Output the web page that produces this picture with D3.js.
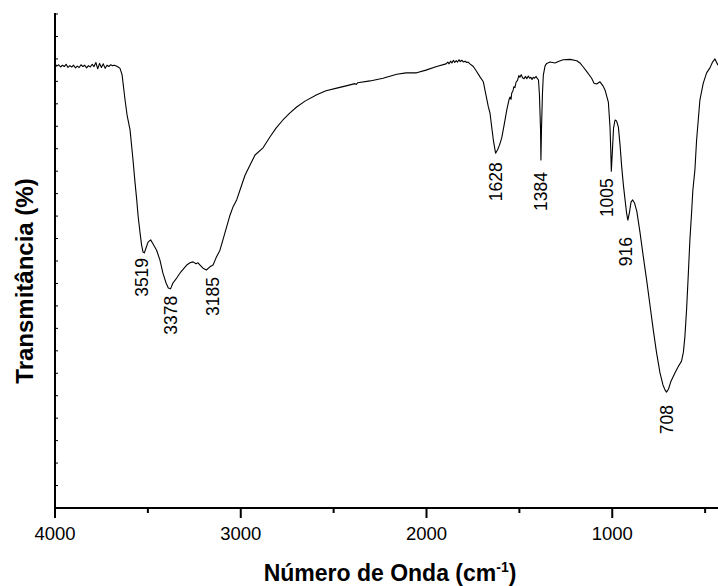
<!DOCTYPE html>
<html>
<head>
<meta charset="utf-8">
<script src="https://cdn.jsdelivr.net/npm/d3@7/dist/d3.min.js"></script>
<style>
  html, body { margin: 0; padding: 0; background: #fff; }
  svg { display: block; }
  text { font-family: "Liberation Sans", Arial, sans-serif; fill: #000; }
</style>
</head>
<body>
<svg id="chart" width="718" height="586"></svg>
<script>
// FTIR spectrum: wavenumber (cm-1) and transmittance (%)
const wavenumber = [
  4000, 3990, 3980, 3970, 3960, 3950, 3940, 3930, 3920, 3910,
  3900, 3890, 3880, 3870, 3860, 3850, 3840, 3830, 3820, 3810,
  3800, 3790, 3780, 3770, 3760, 3750, 3740, 3730, 3720, 3710,
  3700, 3690, 3680, 3670, 3660,
  3650, 3639, 3623, 3612, 3596, 3580, 3569, 3560, 3553, 3542,
  3534, 3526, 3519, 3510, 3499, 3485, 3472, 3453, 3435, 3419,
  3402, 3390, 3378, 3365, 3345, 3322, 3291, 3273, 3257, 3241,
  3230, 3219, 3203, 3185, 3166, 3149, 3133, 3112, 3096, 3076,
  3058, 3042, 3022, 3004, 2977, 2950, 2923, 2880, 2843, 2810,
  2773, 2735, 2699, 2654, 2591, 2541, 2483, 2433, 2385, 2378,
  2370, 2304, 2234, 2160, 2110, 2053, 2003, 1945,
  1895, 1885, 1878, 1870, 1863, 1855, 1848, 1840, 1833, 1825,
  1818, 1810, 1800, 1792, 1784, 1776, 1766,
  1748, 1730, 1712, 1694, 1680, 1667, 1658, 1647, 1640, 1631,
  1628, 1618, 1607, 1595, 1582, 1568,
  1556, 1550, 1545, 1541, 1535, 1530, 1524, 1518, 1510, 1503,
  1497, 1490, 1483, 1475, 1468, 1460, 1452, 1445, 1438, 1432,
  1425, 1418, 1410, 1403, 1397,
  1392, 1386, 1384, 1381, 1376, 1371, 1362, 1353, 1335, 1308,
  1287, 1264, 1227, 1191, 1174, 1156, 1136, 1111, 1098, 1084,
  1066, 1050, 1039, 1021, 1012, 1008, 1005, 999, 993, 985,
  977, 967, 958, 949, 940, 931, 923, 916, 907, 899,
  890, 880, 868, 851, 834, 815, 797, 779, 762, 743,
  727, 716, 708, 697, 685, 662, 646, 627, 617, 609,
  600, 592, 582, 573, 566, 555, 546, 528, 510, 492,
  474, 460, 447, 431
];

const transmittance = [
  98.9, 98.4, 98.7, 98.2, 98.6, 98.3, 98.8, 98.1, 98.5, 98.2,
  98.6, 98.0, 98.4, 98.1, 98.7, 98.3, 98.6, 98.0, 98.5, 98.2,
  98.8, 98.3, 99.2, 97.8, 99.0, 98.1, 98.9, 97.9, 98.6, 98.3,
  98.7, 98.5, 98.6, 98.4, 98.2,
  97.9, 96.5, 90.9, 87.5, 84.2, 77.5, 72.4, 68.6, 65.2, 61.2,
  58.6, 57.0, 56.8, 57.9, 59.2, 59.7, 58.8, 57.4, 55.2, 52.3,
  50.1, 49.0, 48.8, 50.1, 51.2, 52.6, 54.1, 54.6, 54.8, 54.4,
  54.6, 54.1, 53.4, 53.0, 53.7, 54.1, 55.7, 57.4, 59.7, 62.6,
  65.2, 67.0, 68.6, 70.8, 74.1, 76.4, 78.6, 80.2, 82.6, 84.6,
  86.4, 88.0, 89.3, 90.6, 92.0, 92.9, 93.5, 94.0, 94.5, 94.3,
  94.7, 95.1, 95.7, 96.6, 96.9, 96.9, 97.5, 98.3,
  98.9, 99.3, 98.9, 99.5, 99.1, 99.7, 99.2, 99.6, 99.3, 99.8,
  99.4, 99.7, 99.3, 99.5, 99.2, 99.3, 98.9,
  98.3, 97.2, 96.0, 94.9, 92.0, 89.3, 87.9, 84.2, 81.9, 79.7,
  79.0, 79.7, 80.8, 82.4, 85.3, 88.6,
  90.9, 91.5, 91.0, 92.4, 92.8, 93.8, 93.6, 94.8, 95.2, 96.3,
  95.9, 96.5, 95.8, 95.6, 96.1, 95.6, 96.2, 95.7, 95.9, 95.4,
  95.9, 95.7, 96.1, 95.6, 95.3,
  92.0, 84.2, 77.5, 84.2, 92.0, 96.4, 98.4, 99.0, 99.3, 99.1,
  99.5, 99.8, 99.9, 99.6, 99.1, 98.2, 97.1, 95.7, 94.6, 94.4,
  94.9, 94.0, 93.1, 90.4, 84.8, 79.7, 75.0, 79.7, 84.6, 86.4,
  86.2, 84.8, 80.8, 75.9, 71.9, 68.6, 65.7, 64.1, 65.9, 68.1,
  68.6, 67.9, 66.1, 61.5, 56.3, 50.8, 45.2, 39.6, 34.7, 30.1,
  27.4, 26.3, 25.8, 26.5, 28.1, 30.1, 31.4, 32.7, 34.7, 38.1,
  44.1, 50.8, 59.7, 65.7, 70.8, 75.3, 81.9, 90.9, 94.6, 96.9,
  98.0, 99.3, 100.0, 98.6
];

// Labelled absorption bands (cm-1)
const peaks = [3519, 3378, 3185, 1628, 1384, 1005, 916, 708];

const xMajorTicks = [4000, 3000, 2000, 1000];
const xMinorTicks = [3500, 2500, 1500, 500];

const svg = d3.select("#chart");

const x = d3.scaleLinear().domain([4000, 400]).range([55, 723.7]);
const y = d3.scaleLinear().domain([0, 110]).range([508, 14]);

const data = wavenumber.map((w, i) => ({ w, t: transmittance[i] }));

// Y axis: unlabelled inward ticks
const yAxis = svg.append("g").attr("transform", "translate(55,0)");
yAxis.append("line")
  .attr("x1", 0).attr("x2", 0)
  .attr("y1", y(110) - 1).attr("y2", y(0) + 1)
  .attr("stroke", "#000").attr("stroke-width", 2);
yAxis.selectAll("line.tick")
  .data(d3.range(5, 110.1, 5))
  .join("line")
  .attr("class", "tick")
  .attr("x1", 0).attr("x2", 3)
  .attr("y1", d => y(d)).attr("y2", d => y(d))
  .attr("stroke", "#000").attr("stroke-width", 1);

// X axis
const xAxisG = svg.append("g").attr("transform", "translate(0,508)");
xAxisG.append("line")
  .attr("x1", 54).attr("x2", 718)
  .attr("y1", 0).attr("y2", 0)
  .attr("stroke", "#000").attr("stroke-width", 2);
xAxisG.selectAll("line.major")
  .data(xMajorTicks)
  .join("line")
  .attr("class", "major")
  .attr("x1", d => x(d)).attr("x2", d => x(d))
  .attr("y1", 0).attr("y2", 10)
  .attr("stroke", "#000").attr("stroke-width", 2);
xAxisG.selectAll("line.minor")
  .data(xMinorTicks)
  .join("line")
  .attr("class", "minor")
  .attr("x1", d => x(d)).attr("x2", d => x(d))
  .attr("y1", 0).attr("y2", 5)
  .attr("stroke", "#000").attr("stroke-width", 2);
xAxisG.selectAll("text")
  .data(xMajorTicks)
  .join("text")
  .attr("x", d => x(d))
  .attr("y", 32)
  .attr("text-anchor", "middle")
  .style("font-size", "18.5px")
  .text(d => d);

// Spectrum
const line = d3.line().x(d => x(d.w)).y(d => y(d.t));
svg.append("path")
  .datum(data)
  .attr("d", line)
  .attr("fill", "none")
  .attr("stroke", "#000")
  .attr("stroke-width", 1.1)
  .attr("stroke-linejoin", "round");

// Band labels, written vertically just below each minimum;
// a few are nudged sideways/down so they clear the trace
const nudge = { 3519: [-3, -2], 3185: [6, 0], 1628: [0, 2], 1384: [0, 5], 1005: [-5, 0], 916: [-2, 10], 708: [0, 6] };
const tAt = w => transmittance[wavenumber.indexOf(w)];
svg.selectAll("text.peak")
  .data(peaks)
  .join("text")
  .attr("class", "peak")
  .attr("transform", d => {
    const [dx, dy] = nudge[d] || [0, 0];
    return `translate(${x(d) + dx},${y(tAt(d)) + 7 + dy}) rotate(-90)`;
  })
  .attr("text-anchor", "end")
  .attr("dy", "0.36em")
  .style("font-size", "17.5px")
  .text(d => d);

// Axis titles
svg.append("text")
  .attr("transform", "translate(33,281) rotate(-90)")
  .attr("text-anchor", "middle")
  .style("font-size", "24px")
  .style("font-weight", "bold")
  .text("Transmitância (%)");

const xt = svg.append("text")
  .attr("x", 390).attr("y", 581)
  .attr("text-anchor", "middle")
  .style("font-size", "23px")
  .style("font-weight", "bold");
xt.append("tspan").text("Número de Onda (cm");
xt.append("tspan").attr("dy", -9).style("font-size", "14px").text("-1");
xt.append("tspan").attr("dy", 9).text(")");
</script>
</body>
</html>
